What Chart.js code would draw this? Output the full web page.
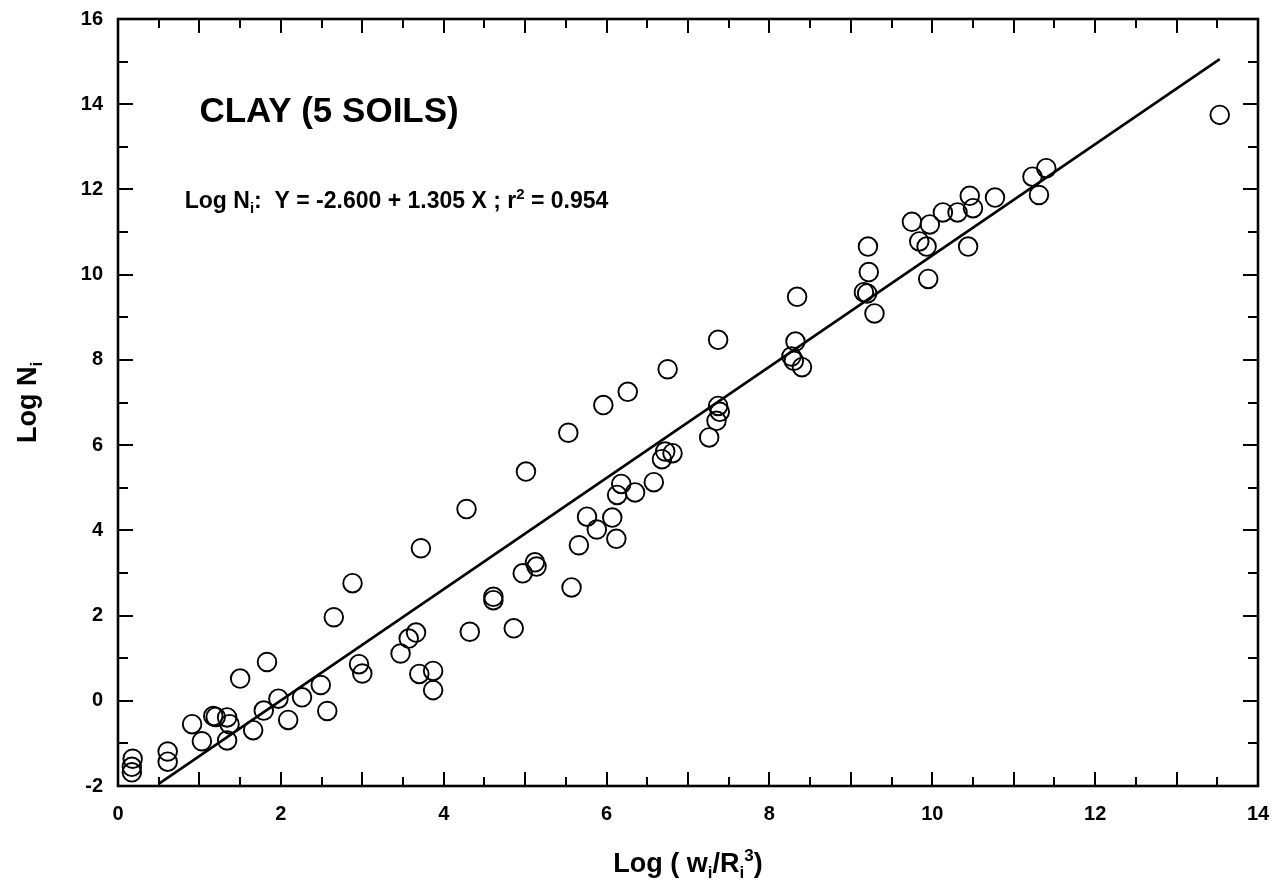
<!DOCTYPE html>
<html>
<head>
<meta charset="utf-8">
<script src="https://cdn.jsdelivr.net/npm/chart.js@4.4.1/dist/chart.umd.min.js"></script>
<style>
html,body{margin:0;padding:0;background:#fff;}
#wrap{width:1280px;height:885px;position:relative;}
</style>
</head>
<body>
<div id="wrap"><canvas id="c"></canvas></div>
<script>
// Observed data: Log(w_i/R_i^3) vs Log N_i
const logW = [0.18,0.17,0.17,0.61,0.61,0.91,1.03,1.17,1.20,1.34,1.37,1.34,1.50,1.66,1.79,1.83,1.97,2.09,2.26,2.49,
  2.57,2.65,2.88,2.96,3.00,3.47,3.57,3.66,3.70,3.87,3.87,3.72,4.28,4.32,4.61,4.61,4.86,4.97,5.01,5.12,
  5.14,5.57,5.53,5.66,5.76,5.88,5.96,6.07,6.12,6.13,6.18,6.26,6.35,6.58,6.68,6.72,6.81,6.75,7.26,7.35,
  7.39,7.37,7.37,8.27,8.30,8.40,8.32,8.34,9.16,9.20,9.22,9.21,9.29,9.75,9.84,9.93,9.95,9.97,10.13,10.31,
  10.46,10.50,10.44,10.77,11.23,11.31,11.40,13.53];
const logN = [-1.36,-1.55,-1.68,-1.19,-1.43,-0.55,-0.95,-0.36,-0.38,-0.39,-0.55,-0.93,0.52,-0.69,-0.23,0.91,0.05,-0.45,0.08,0.37,
  -0.24,1.96,2.76,0.86,0.64,1.11,1.46,1.60,0.63,0.70,0.25,3.58,4.50,1.62,2.44,2.36,1.70,2.99,5.38,3.25,
  3.15,2.66,6.29,3.65,4.32,4.02,6.94,4.30,3.80,4.83,5.09,7.25,4.89,5.13,5.67,5.85,5.81,7.78,6.18,6.57,
  6.78,6.92,8.47,8.08,7.98,7.83,8.43,9.48,9.59,9.56,10.06,10.66,9.09,11.24,10.78,10.66,9.90,11.18,11.46,11.46,
  11.85,11.56,10.66,11.81,12.30,11.87,12.50,13.75];
// Regression line Log N = -2.600 + 1.305 X, end points as drawn
const fitX = [0.50, 13.53];
const fitY = [-1.95, 15.06];
const xTicks = [0,2,4,6,8,10,12,14];
const yTicks = [-2,0,2,4,6,8,10,12,14,16];

const FONT = '"Liberation Sans", Arial, Helvetica, sans-serif';

function drawRich(ctx, parts, x, y, align) {
  let total = 0;
  parts.forEach(p => { ctx.font = 'bold ' + p[1] + 'px ' + FONT; total += ctx.measureText(p[0]).width; });
  let cx = align === 'center' ? x - total / 2 : x;
  parts.forEach(p => {
    ctx.font = 'bold ' + p[1] + 'px ' + FONT;
    ctx.fillText(p[0], cx, y + (p[2] || 0));
    cx += ctx.measureText(p[0]).width;
  });
}

const framePlugin = {
  id: 'frame',
  afterDraw(chart) {
    const ctx = chart.ctx;
    const xs = chart.scales.x, ys = chart.scales.y;
    const a = chart.chartArea;
    ctx.save();
    ctx.strokeStyle = '#000';
    ctx.lineCap = 'square';
    ctx.lineWidth = 2;
    for (let v = 0.5; v < 14; v += 0.5) {
      const px = Math.round(xs.getPixelForValue(v));
      const len = (Math.abs(v - Math.round(v)) < 1e-6) ? 13 : 8;
      ctx.beginPath();
      ctx.moveTo(px, a.bottom); ctx.lineTo(px, a.bottom - len);
      ctx.moveTo(px, a.top); ctx.lineTo(px, a.top + len);
      ctx.stroke();
    }
    for (let v = -1; v < 16; v += 1) {
      const py = Math.round(ys.getPixelForValue(v));
      const len = (v % 2 === 0) ? 14 : 9;
      ctx.beginPath();
      ctx.moveTo(a.left, py); ctx.lineTo(a.left + len, py);
      ctx.moveTo(a.right, py); ctx.lineTo(a.right - len, py);
      ctx.stroke();
    }
    ctx.lineWidth = 2.6;
    ctx.strokeRect(a.left, a.top, a.right - a.left, a.bottom - a.top);

    ctx.fillStyle = '#000';
    ctx.textBaseline = 'alphabetic';
    ctx.textAlign = 'left';
    ctx.font = 'bold 35px ' + FONT;
    ctx.fillText('CLAY (5 SOILS)', xs.getPixelForValue(1.0), ys.getPixelForValue(13.58));
    drawRich(ctx, [
      ['Log N', 23, 0], ['i', 15, 5], [':  Y = -2.600 + 1.305 X ; r', 23, 0], ['2', 15, -9], [' = 0.954', 23, 0]
    ], xs.getPixelForValue(0.82), ys.getPixelForValue(11.56), 'left');
    drawRich(ctx, [
      ['Log ( w', 27, 0], ['i', 17, 6], ['/R', 27, 0], ['i', 17, 6], ['3', 17, -11], [')', 27, 0]
    ], (a.left + a.right) / 2, 872, 'center');
    ctx.save();
    ctx.translate(36, (a.top + a.bottom) / 2);
    ctx.rotate(-Math.PI / 2);
    drawRich(ctx, [['Log N', 27, 0], ['i', 17, 6]], 0, 0, 'center');
    ctx.restore();
    ctx.restore();
  }
};

new Chart(document.getElementById('c'), {
  type: 'scatter',
  data: {
    datasets: [
      {
        label: 'Log Ni',
        data: logW.map((x, i) => ({ x: x, y: logN[i] })),
        pointStyle: 'circle',
        pointRadius: 9.3,
        pointHoverRadius: 9.3,
        borderColor: '#000',
        backgroundColor: 'rgba(0,0,0,0)',
        borderWidth: 1.9,
        showLine: false,
        order: 2
      },
      {
        label: 'fit',
        type: 'line',
        data: fitX.map((x, i) => ({ x: x, y: fitY[i] })),
        borderColor: '#000',
        borderWidth: 2.6,
        pointRadius: 0,
        fill: false,
        order: 1
      }
    ]
  },
  options: {
    responsive: true,
    maintainAspectRatio: false,
    animation: false,
    events: [],
    layout: { padding: { left: 0, top: 19, right: 22, bottom: 0 } },
    plugins: { legend: { display: false }, tooltip: { enabled: false } },
    scales: {
      x: {
        type: 'linear', min: 0, max: 14,
        afterFit(s) { s.height = 99; s.paddingLeft = 0; s.paddingRight = 0; },
        afterBuildTicks(s) { s.ticks = xTicks.map(v => ({ value: v })); },
        grid: { display: false, drawTicks: false },
        border: { display: false },
        ticks: { color: '#000', padding: 16, font: { family: FONT, size: 20, weight: 'bold' }, maxRotation: 0 }
      },
      y: {
        type: 'linear', min: -2, max: 16,
        afterFit(s) { s.width = 118; s.paddingTop = 0; s.paddingBottom = 0; },
        afterBuildTicks(s) { s.ticks = yTicks.map(v => ({ value: v })); },
        grid: { display: false, drawTicks: false },
        border: { display: false },
        ticks: { color: '#000', padding: 15, font: { family: FONT, size: 20, weight: 'bold' } }
      }
    }
  },
  plugins: [framePlugin]
});
</script>
</body>
</html>
